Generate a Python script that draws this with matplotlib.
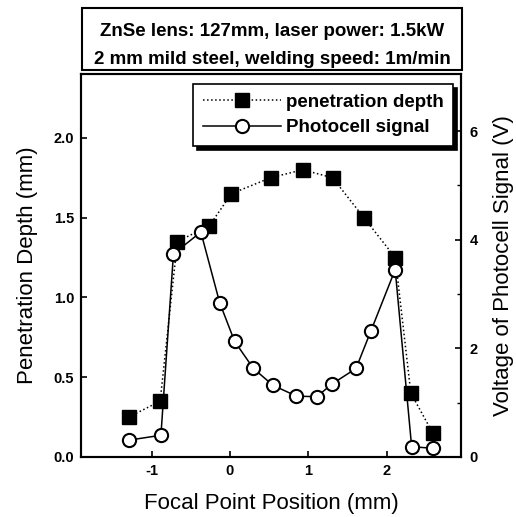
import matplotlib
matplotlib.use('Agg')
import matplotlib.pyplot as plt
from matplotlib.patches import Rectangle

# penetration depth (mm) vs focal point position (mm)
depth_x = [-1.29, -0.89, -0.67, -0.26, 0.02, 0.52, 0.93, 1.31, 1.71, 2.11, 2.31, 2.59]
depth_y = [0.25, 0.35, 1.35, 1.45, 1.65, 1.75, 1.80, 1.75, 1.50, 1.25, 0.40, 0.15]

# photocell signal (V)
signal_x = [-1.29, -0.88, -0.72, -0.37, -0.13, 0.06, 0.30, 0.55, 0.85, 1.11, 1.30, 1.61, 1.80, 2.11, 2.32, 2.59]
signal_v = [0.31, 0.40, 3.74, 4.14, 2.84, 2.13, 1.63, 1.32, 1.12, 1.11, 1.34, 1.63, 2.32, 3.45, 0.19, 0.16]

x_ticks = [-1, 0, 1, 2]
depth_ticks = [0.0, 0.5, 1.0, 1.5, 2.0]
volt_ticks = [0, 2, 4, 6]

font_family = ['Liberation Sans', 'DejaVu Sans']
plt.rcParams['font.family'] = font_family
tick_size = 10.5
label_size = 16
box_size = 13.5

fig = plt.figure(figsize=(5.16, 5.17), dpi=100)
ax = fig.add_axes([81 / 516, 60 / 517, 380 / 516, 383 / 517])
ax2 = ax.twinx()

l1, = ax.plot(depth_x, depth_y, linestyle=':', color='black', linewidth=1.1,
              marker='s', markersize=10, markerfacecolor='black', markeredgecolor='black')
l2, = ax2.plot(signal_x, signal_v, linestyle='-', color='black', linewidth=1.1,
               marker='o', markersize=9.5, markerfacecolor='white', markeredgecolor='black',
               markeredgewidth=1.5)

ax.set_xlim(-1.9, 2.95)
ax.set_ylim(0, 2.4)
ax2.set_ylim(0, 7.05)

ax.set_xticks(x_ticks)
ax.set_xticklabels([str(t) for t in x_ticks], fontsize=tick_size, fontweight='bold')
ax.set_yticks(depth_ticks)
ax.set_yticklabels(['%.1f' % t for t in depth_ticks], fontsize=tick_size, fontweight='bold')
ax2.set_yticks(volt_ticks)
ax2.set_yticks([1, 3, 5], minor=True)
ax2.set_yticklabels([str(t) for t in volt_ticks], fontsize=tick_size, fontweight='bold')

ax.tick_params(direction='in', length=4, width=1.2, pad=5)
ax.tick_params(axis='x', top=False)
ax2.tick_params(direction='in', length=4, width=1.2, pad=6)
ax2.tick_params(which='minor', direction='in', length=3, width=1)

for a in (ax, ax2):
    for s in a.spines.values():
        s.set_linewidth(1.5)

ax.set_xlabel('Focal Point Position (mm)', fontsize=label_size, labelpad=11)
ax.set_ylabel('Penetration Depth (mm)', fontsize=label_size, labelpad=11)
ax2.set_ylabel('Voltage of Photocell Signal (V)', fontsize=label_size, labelpad=11)

leg = ax2.legend([l1, l2], ['penetration depth', 'Photocell signal'],
                 loc='upper right', bbox_to_anchor=(1.004, 0.998),
                 prop={'weight': 'bold', 'size': box_size, 'family': font_family},
                 fancybox=False, framealpha=1, edgecolor='black', handlelength=4.2,
                 handletextpad=0.25, borderpad=0.5, labelspacing=0.45,
                 shadow={'color': 'black', 'alpha': 1, 'ox': 3, 'oy': -3})
leg.get_frame().set_linewidth(1.2)

# condition box above the plot
fig.patches.append(Rectangle((82 / 516, 1 - 70 / 517), 380 / 516, 62 / 517,
                             transform=fig.transFigure, fill=False,
                             edgecolor='black', linewidth=1.5))
fig.text(272 / 516, 1 - 31 / 517, 'ZnSe lens: 127mm, laser power: 1.5kW',
         ha='center', va='center', fontsize=box_size, fontweight='bold')
fig.text(272 / 516, 1 - 60 / 517, '2 mm mild steel, welding speed: 1m/min',
         ha='center', va='center', fontsize=box_size, fontweight='bold')

plt.savefig('out.png', dpi=100)
